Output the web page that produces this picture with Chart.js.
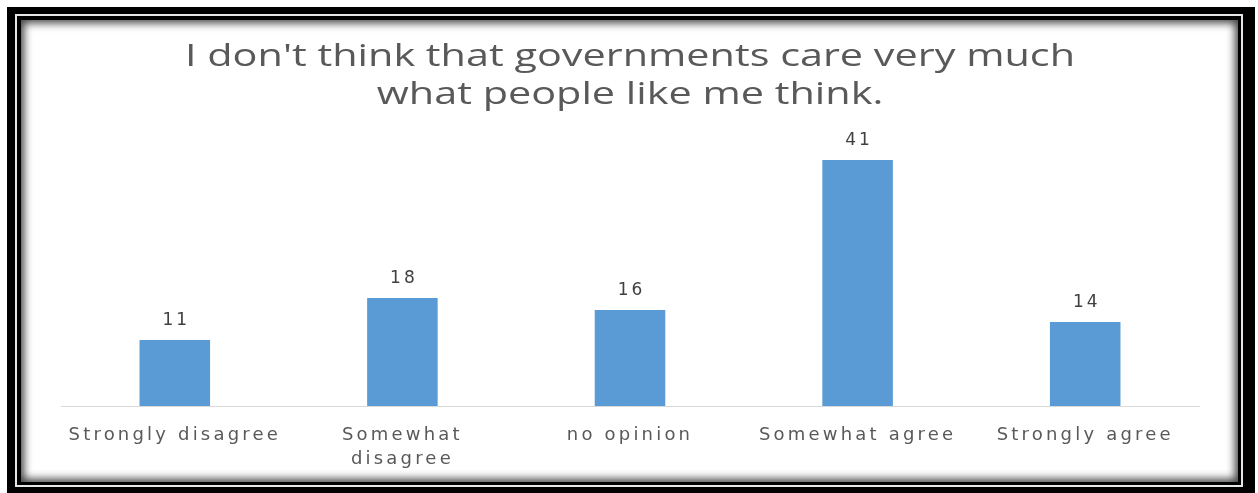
<!DOCTYPE html>
<html>
<head>
<meta charset="utf-8">
<script src="https://cdn.jsdelivr.net/npm/chart.js@4.4.0/dist/chart.umd.min.js"></script>
<style>
  html, body { margin: 0; padding: 0; background: #fff; }
  #wrap { position: relative; width: 1258px; height: 493px; overflow: hidden; }
  .outer { position: absolute; left: 7px; top: 7px; width: 1248px; height: 486px; background: #000; }
  .line { position: absolute; left: 15px; top: 14px; width: 1224px; height: 469px; border: 2px solid #e6e6e6; }
  .inner { position: absolute; left: 17px; top: 16px; width: 1224px; height: 469px; background: #000; }
  .paper { position: absolute; left: 21px; top: 20px; width: 1217px; height: 462px; background: #fff;
           box-shadow: inset 0 0 9px 3px rgba(0,0,0,0.75); }
  canvas { position: absolute; left: 0; top: 0; }
</style>
</head>
<body>
<div id="wrap">
  <div class="outer"></div>
  <div class="line"></div>
  <div class="inner"></div>
  <div class="paper"></div>
  <canvas id="chart" width="1258" height="493"></canvas>
</div>
<script>
var titleLines = ["I don't think that governments care very much", "what people like me think."];
var categories = ["Strongly disagree", ["Somewhat", "disagree"], "no opinion", "Somewhat agree", "Strongly agree"];
var values = [11, 18, 16, 41, 14];
var yMin = 0;
var yMax = 45;

// the original text is drawn wide, so the tick letters get extra spacing
var spacing = {
    id: 'spacing',
    beforeDraw: function (chart) { chart.ctx.letterSpacing = '3.2px'; }
};

// title and value labels are stretched sideways like in the picture
var titleText = {
    id: 'titleText',
    afterDraw: function (chart) {
        var ctx = chart.ctx;
        ctx.save();
        ctx.letterSpacing = '0px';
        ctx.font = '31px "Open Sans"';
        ctx.fillStyle = '#595959';
        ctx.textAlign = 'center';
        ctx.textBaseline = 'middle';
        var k = 890 / ctx.measureText(titleLines[0]).width;
        titleLines.forEach(function (t, i) {
            ctx.save();
            ctx.translate(630, 57 + i * 38);
            ctx.scale(k, 1);
            ctx.fillText(t, 0, 0);
            ctx.restore();
        });
        ctx.restore();
    }
};

var barLabels = {
    id: 'barLabels',
    afterDatasetsDraw: function (chart) {
        var ctx = chart.ctx;
        var meta = chart.getDatasetMeta(0);
        ctx.save();
        ctx.letterSpacing = '3px';
        ctx.font = '17px "DejaVu Sans"';
        ctx.fillStyle = '#404040';
        ctx.textAlign = 'center';
        ctx.textBaseline = 'middle';
        meta.data.forEach(function (bar, i) {
            ctx.fillText(String(values[i]), bar.x + 1.5, bar.y - 19);
        });
        ctx.restore();
    }
};

var chart = new Chart(document.getElementById('chart'), {
    type: 'bar',
    data: {
        labels: categories,
        datasets: [{
            data: values,
            backgroundColor: '#5b9bd5',
            borderWidth: 0,
            barPercentage: 0.31,
            categoryPercentage: 1
        }]
    },
    options: {
        responsive: false,
        animation: false,
        layout: { padding: { left: 61, right: 59, top: 136, bottom: 0 } },
        plugins: {
            legend: { display: false },
            tooltip: { enabled: false },
            title: { display: false }
        },
        scales: {
            x: {
                grid: { display: false },
                border: { display: true, color: '#d9d9d9', width: 1 },
                ticks: {
                    color: '#595959',
                    font: { family: '"DejaVu Sans"', size: 18, lineHeight: 1.33 },
                    padding: 9,
                    maxRotation: 0,
                    autoSkip: false
                },
                afterFit: function (scale) { scale.height = 87; }
            },
            y: {
                display: false,
                min: yMin,
                max: yMax
            }
        }
    },
    plugins: [spacing, titleText, barLabels]
});
</script>
</body>
</html>
